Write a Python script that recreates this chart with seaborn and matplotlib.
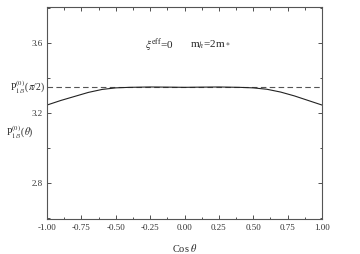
import numpy as np
import pandas as pd
import seaborn as sns
import matplotlib.pyplot as plt
from matplotlib.ticker import MultipleLocator

# Data
cos_theta = [-1.00, -0.90, -0.80, -0.70, -0.60, -0.50, -0.40, -0.25, -0.10,
             0.00, 0.10, 0.25, 0.40, 0.50, 0.60, 0.70, 0.80, 0.90, 1.00]
p_theta = [3.246, 3.272, 3.295, 3.318, 3.335, 3.344, 3.347, 3.349, 3.348,
           3.347, 3.348, 3.349, 3.347, 3.344, 3.336, 3.320, 3.298, 3.272, 3.246]
p_half_pi = 3.35

x_ticks = [-1.00, -0.75, -0.50, -0.25, 0.00, 0.25, 0.50, 0.75, 1.00]
y_ticks = [2.8, 3.2, 3.6]

data = pd.DataFrame({'cos': cos_theta, 'P': p_theta})

sns.set_style('ticks')
plt.rcParams['font.family'] = ['Liberation Serif', 'DejaVu Serif']
plt.rcParams['mathtext.fontset'] = 'stix'

fig = plt.figure(figsize=(3.6, 2.54), dpi=100)
ax = fig.add_axes([0.131, 0.138, 0.763, 0.834])

ax.axhline(p_half_pi, color='#555555', lw=0.8, ls=(0, (5, 3)))
sns.lineplot(data=data, x='cos', y='P', ax=ax, color='#222222', lw=0.8)

ax.set_xlim(-1.0, 1.0)
ax.set_ylim(2.594, 3.806)
ax.set_xticks(x_ticks)
ax.set_xticklabels(['%.2f' % v for v in x_ticks])
ax.set_yticks(y_ticks)
ax.set_yticklabels(['%.1f' % v for v in y_ticks])
ax.xaxis.set_minor_locator(MultipleLocator(0.125))
ax.yaxis.set_minor_locator(MultipleLocator(0.2))
ax.tick_params(which='both', direction='in', top=True, right=True,
               labelsize=6.5, colors='#333333', width=0.6)
ax.tick_params(which='major', length=3)
ax.tick_params(which='minor', length=1.8)
for s in ax.spines.values():
    s.set_linewidth(0.8)
    s.set_color('#555555')

ax.set_xlabel(r'Cos $\theta$', fontsize=7.5, labelpad=7)
ax.set_ylabel('')

ax.text(0.356, 0.82, r'$\xi^{\mathrm{eff}}$=0', transform=ax.transAxes,
        fontsize=8, va='center')
ax.text(0.52, 0.82, r'm$_h$=2m$_*$', transform=ax.transAxes, fontsize=8,
        va='center')
ax.text(-0.005, p_half_pi, r'P$^{(0)}_{1/3}$($\pi$/2)',
        transform=ax.get_yaxis_transform(), fontsize=7, ha='right',
        va='center')
ax.text(-0.05, 3.09, r'P$^{(0)}_{1/3}$($\theta$)',
        transform=ax.get_yaxis_transform(), fontsize=7, ha='right',
        va='center')

fig.savefig('out.png', dpi=100)
